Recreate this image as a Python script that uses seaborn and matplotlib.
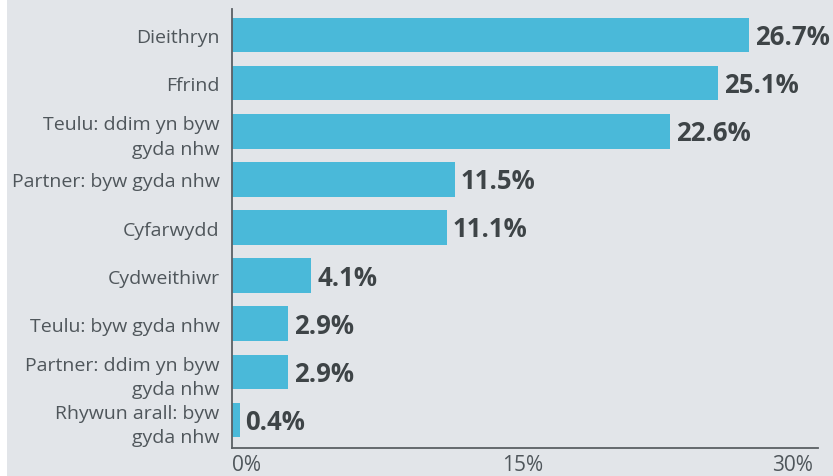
import matplotlib
matplotlib.use("Agg")
import matplotlib.pyplot as plt
import seaborn as sns
import pandas as pd
from matplotlib.patches import Rectangle

categories = [
    "Dieithryn",
    "Ffrind",
    "Teulu: ddim yn byw\ngyda nhw",
    "Partner: byw gyda nhw",
    "Cyfarwydd",
    "Cydweithiwr",
    "Teulu: byw gyda nhw",
    "Partner: ddim yn byw\ngyda nhw",
    "Rhywun arall: byw\ngyda nhw",
]
values = [26.7, 25.1, 22.6, 11.5, 11.1, 4.1, 2.9, 2.9, 0.4]
x_ticks = [0, 15, 30]
x_tick_labels = ["0%", "15%", "30%"]

BG = "#e2e5e9"
BAR = "#4ab9d9"
LABEL = "#4f565b"
VALUE = "#3e4447"
AXIS = "#5a5f63"

sns.set_theme(style="white")
plt.rcParams["font.family"] = ["Open Sans", "DejaVu Sans"]

df = pd.DataFrame({"category": categories, "value": values})

fig = plt.figure(figsize=(8.33, 4.77), dpi=100, facecolor="white")
fig.patches.append(Rectangle((7 / 833, 0), 1 - 7 / 833, 1, transform=fig.transFigure,
                             facecolor=BG, edgecolor="none", zorder=-10))
ax = fig.add_axes([232 / 833, 1 - 449 / 477, (818 - 232) / 833, (449 - 10) / 477])
ax.set_facecolor("none")

sns.barplot(data=df, x="value", y="category", orient="h", color=BAR,
            saturation=1, width=0.72, linewidth=0, edgecolor="none", ax=ax)

for i, v in enumerate(values):
    ax.text(v + 0.3, i + 0.03, f"{v:.1f}%", va="center", ha="left",
            fontsize=18.5, fontweight="bold", color=VALUE)

ax.set_xlim(0, 30.25)
ax.set_ylim(8.58, -0.54)
ax.set_xlabel("")
ax.set_ylabel("")

ax.set_xticks(x_ticks)
ax.set_xticklabels(x_tick_labels, fontsize=15, color=LABEL)
tl = ax.get_xticklabels()
tl[0].set_ha("left")
tl[-1].set_ha("right")
ax.tick_params(axis="x", length=0, pad=4)
ax.tick_params(axis="y", length=0, pad=9, labelsize=14, labelcolor=LABEL)
for lab in ax.get_yticklabels():
    lab.set_linespacing(1.45)

for side in ["top", "right"]:
    ax.spines[side].set_visible(False)
for side in ["left", "bottom"]:
    ax.spines[side].set_color(AXIS)
    ax.spines[side].set_linewidth(1.3)

fig.savefig("out.png", dpi=100, facecolor="white")
